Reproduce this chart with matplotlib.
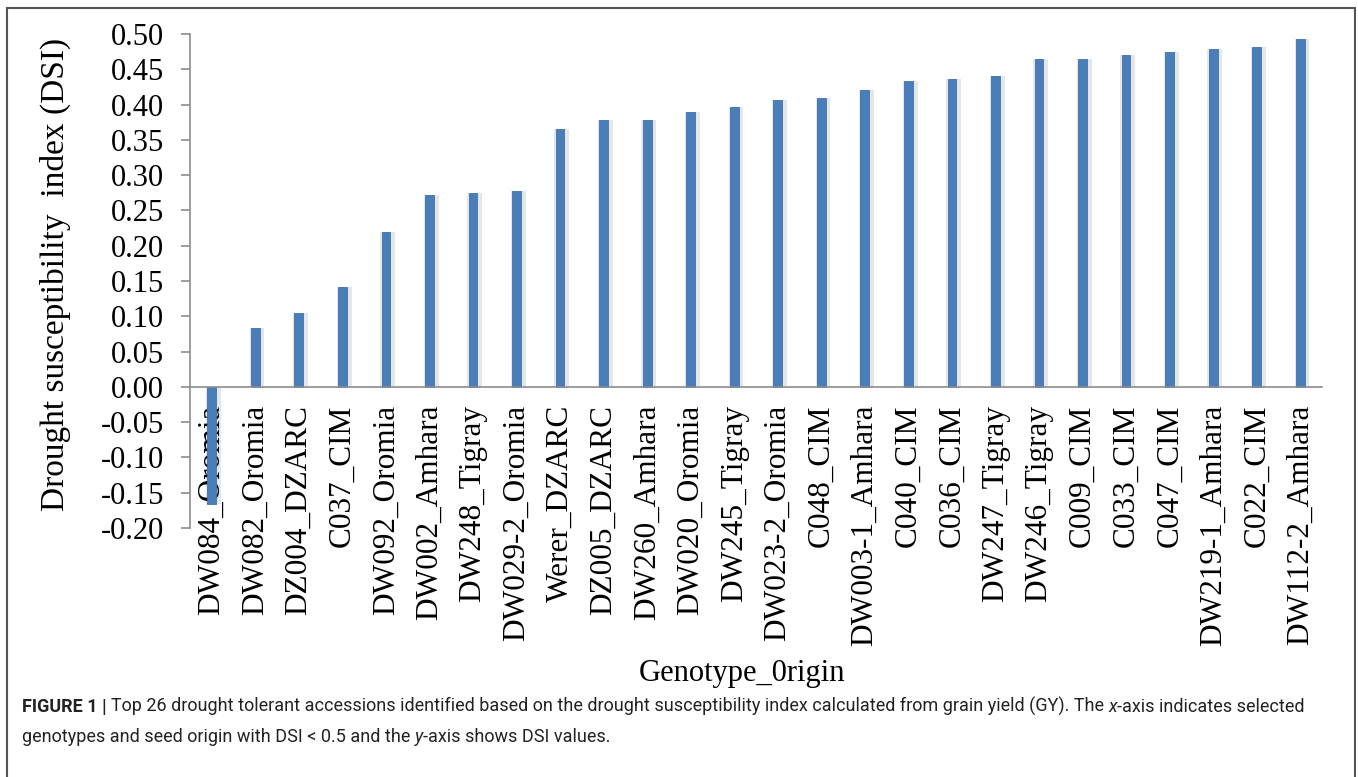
import numpy as np
import matplotlib.pyplot as plt
from matplotlib.patches import Rectangle

genotypes = ["DW084_Oromia", "DW082_Oromia", "DZ004_DZARC", "C037_CIM",
             "DW092_Oromia", "DW002_Amhara", "DW248_Tigray", "DW029-2_Oromia",
             "Werer_DZARC", "DZ005_DZARC", "DW260_Amhara", "DW020_Oromia",
             "DW245_Tigray", "DW023-2_Oromia", "C048_CIM", "DW003-1_Amhara",
             "C040_CIM", "C036_CIM", "DW247_Tigray", "DW246_Tigray",
             "C009_CIM", "C033_CIM", "C047_CIM", "DW219-1_Amhara",
             "C022_CIM", "DW112-2_Amhara"]
dsi = [-0.166, 0.083, 0.104, 0.141, 0.219, 0.272, 0.275, 0.278,
       0.366, 0.378, 0.378, 0.390, 0.396, 0.407, 0.410, 0.421,
       0.433, 0.436, 0.441, 0.464, 0.464, 0.470, 0.474, 0.479,
       0.481, 0.493]
yticks = [-0.20, -0.15, -0.10, -0.05, 0.00, 0.05, 0.10, 0.15, 0.20,
          0.25, 0.30, 0.35, 0.40, 0.45, 0.50]
ytick_labels = ["%.2f" % v for v in yticks]

serif = ["Liberation Serif", "DejaVu Serif"]
W, H = 1358, 777
fig = plt.figure(figsize=(W / 100, H / 100), dpi=100)
ax = fig.add_axes([190 / W, 1 - 528 / H, (1322 - 190) / W, (528 - 34) / H])

# spine position first: moving a spine resets the ticks
ax.spines["top"].set_visible(False)
ax.spines["right"].set_visible(False)
ax.spines["bottom"].set_position(("data", 0))
for s in ("left", "bottom"):
    ax.spines[s].set_color("#8c8c8c")
    ax.spines[s].set_linewidth(1.2)

x = np.arange(len(genotypes))
# soft shadow behind each bar
ax.bar(x + 0.04, dsi, width=0.34, color="#c8c8c8", alpha=0.45, zorder=1)
ax.bar(x, dsi, width=0.2, color="#4a7ebb", edgecolor="#3f72ae", linewidth=0.6, zorder=2)

ax.set_xlim(-0.5, len(genotypes) - 0.5)
ax.set_ylim(-0.20, 0.50)
ax.set_yticks(yticks)
ax.set_yticklabels(ytick_labels, fontfamily=serif, fontsize=22)
ax.set_xticks(x)
ax.set_xticklabels(genotypes, rotation=90, fontfamily=serif, fontsize=22.5, va="top")

ax.tick_params(axis="y", length=6.5, width=1.2, color="#8c8c8c", pad=12)
ax.tick_params(axis="x", length=0, pad=13)

fig.text(55 / W, 1 - 274 / H, "Drought susceptibility  index (DSI)", rotation=90,
         ha="center", va="center", fontfamily=serif, fontsize=24)
fig.text(742 / W, 1 - 673 / H, "Genotype_0rigin", ha="center", va="center",
         fontfamily=serif, fontsize=22)

# outer frame
fig.patches.append(Rectangle((7 / W, -0.05), (1355 - 7) / W, 1.05 - 8 / H,
                             transform=fig.transFigure, fill=False,
                             edgecolor="#555555", linewidth=1.5))

# caption with mixed styles, pieces placed one after another
sans = ["Roboto", "DejaVu Sans"]
cap_size = 13
fig.canvas.draw()
renderer = fig.canvas.get_renderer()


def line(pieces, x0, y0):
    xp = x0
    for txt, kw in pieces:
        t = fig.text(xp / W, 1 - y0 / H, txt, va="baseline", fontfamily=sans,
                     fontsize=cap_size, color="#222222", **kw)
        bb = t.get_window_extent(renderer)
        xp += bb.width


line([("FIGURE 1 | ", {"fontweight": "bold"}),
      ("Top 26 drought tolerant accessions identified based on the drought susceptibility index calculated from grain yield (GY). The ", {}),
      ("x", {"fontstyle": "italic"}),
      ("-axis indicates selected", {})], 22, 712)
line([("genotypes and seed origin with DSI < 0.5 and the ", {}),
      ("y", {"fontstyle": "italic"}),
      ("-axis shows DSI values.", {})], 22, 742)

fig.savefig("out.png", dpi=100)
